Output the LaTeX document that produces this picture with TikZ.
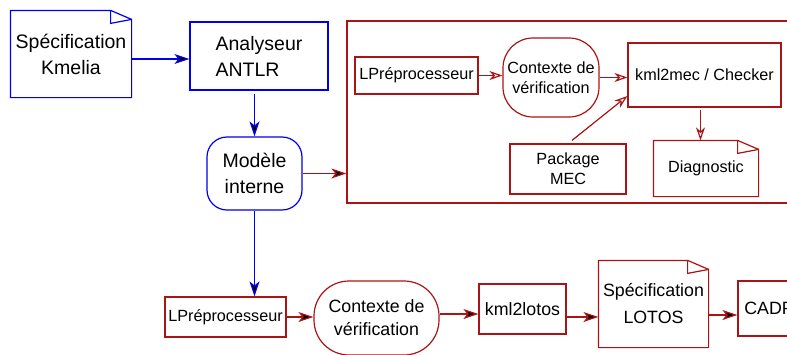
\documentclass[tikz,border=0pt]{standalone}
\usepackage{fontspec}
\setmainfont{Liberation Sans}
\usetikzlibrary{arrows.meta}
\definecolor{kblue}{RGB}{0,0,235}
\definecolor{kred}{RGB}{170,20,20}
\newcommand\bigf{\fontsize{19.5}{26}\selectfont}
\newcommand\midf{\fontsize{17.8}{23}\selectfont}
\newcommand\smallf{\fontsize{16.2}{20}\selectfont}
% dog-eared document outline round a node
\newcommand\docoutline[2]{%
  \draw[#2] (#1.north west) -- ([xshift=-21pt]#1.north east)
    -- ([yshift=-9pt]#1.north east) -- (#1.south east)
    -- (#1.south west) -- cycle;
  \draw[#2] ([xshift=-21pt]#1.north east) -- ([xshift=-21pt,yshift=-13pt]#1.north east)
    -- ([yshift=-9pt]#1.north east);}
\begin{document}
\begin{tikzpicture}[x=1pt,y=-1pt,line width=1.2pt,
  box/.style={draw,inner sep=0pt,align=center},
  doc/.style={inner sep=0pt,align=center},
  fillhead/.style={-{Stealth[fill=black,length=15pt,width=10pt,inset=4pt]}},
  openhead/.style={-{Stealth[open,length=13pt,width=9pt,inset=4pt]}}]
\useasboundingbox (0,0) rectangle (787,354);
\clip (0,0) rectangle (787,354);
% upper part
\node[doc,font=\bigf,minimum width=120,minimum height=86] (kmelia) at (71,54)
  {Spécification\\Kmelia};
\docoutline{kmelia}{kblue}
\node[box,draw=kblue,font=\bigf,align=left,minimum width=138,minimum height=68]
  (antlr) at (259,56) {Analyseur\\ANTLR};
\node[box,draw=kblue,font=\bigf,rounded corners=20pt,minimum width=95,minimum height=73]
  (modele) at (254.5,173.5) {Modèle\\interne};
\draw[kblue,fillhead] ([yshift=-5pt]kmelia.east) -- ([yshift=-5pt]kmelia.east -| antlr.west);
\draw[kblue,fillhead,shorten <=3pt] (modele.north |- antlr.south) -- (modele.north);
% verification frame
\node[box,draw=kred,minimum width=453,minimum height=182] (frame) at (573.5,112) {};
\draw[kred,fillhead] (modele.east) -- (modele.east -| frame.west);
\node[box,draw=kred,font=\smallf,minimum width=123,minimum height=37] (lpre) at (416.5,75.5)
  {LPréprocesseur};
\node[box,draw=kred,font=\smallf,rounded corners=30pt,minimum width=96,minimum height=79]
  (ctx) at (551,77.5) {Contexte de\\vérification};
\node[box,draw=kred,font=\smallf,minimum width=153,minimum height=64] (kml) at (704.5,75)
  {kml2mec / Checker};
\node[box,draw=kred,font=\smallf,minimum width=116,minimum height=50] (mec) at (568,169)
  {Package\\MEC};
\node[doc,font=\smallf,minimum width=104,minimum height=55] (diag) at (706,168.5)
  {Diagnostic};
\docoutline{diag}{kred}
\draw[kred,openhead] (lpre.east) -- (lpre.east -| ctx.west);
\draw[kred,openhead] (ctx.east) -- (ctx.east -| kml.west);
\draw[kred,openhead] ([xshift=4pt,yshift=3pt]mec.north) -- ([yshift=-21pt]kml.west);
\draw[kred,openhead,shorten <=2pt] ([xshift=-4pt]kml.south) -- ([xshift=-4pt]kml.south |- diag.north);
% lower part
\node[box,draw=kred,font=\smallf,minimum width=121,minimum height=40] (lpreb) at (225.5,317)
  {LPréprocesseur};
\node[box,draw=kred,font=\midf,rounded corners=35pt,minimum width=125,minimum height=74]
  (ctxb) at (376.5,318) {Contexte de\\vérification};
\node[box,draw=kred,font=\midf,minimum width=87,minimum height=50] (lotos) at (522.5,309)
  {kml2lotos};
\node[doc,font=\midf,minimum width=109,minimum height=86] (speclotos) at (653.5,304)
  {Spécification\\[4pt]LOTOS};
\docoutline{speclotos}{kred}
\node[box,draw=kred,font=\midf,minimum width=62,minimum height=55] (cadp) at (769,308.5)
  {CADP};
\draw[kblue,fillhead] (modele.south) -- (modele.south |- lpreb.north);
\draw[kred,fillhead] (lpreb.east) -- (lpreb.east -| ctxb.west);
\draw[kred,fillhead] ([yshift=4pt]ctxb.east) -- ([yshift=4pt]ctxb.east -| lotos.west);
\draw[kred,fillhead] ([yshift=-8pt]lotos.east) -- ([yshift=-8pt]lotos.east -| speclotos.west);
\draw[kred,fillhead] ([yshift=-11pt]speclotos.east) -- ([yshift=-11pt]speclotos.east -| cadp.west);
\end{tikzpicture}
\end{document}
